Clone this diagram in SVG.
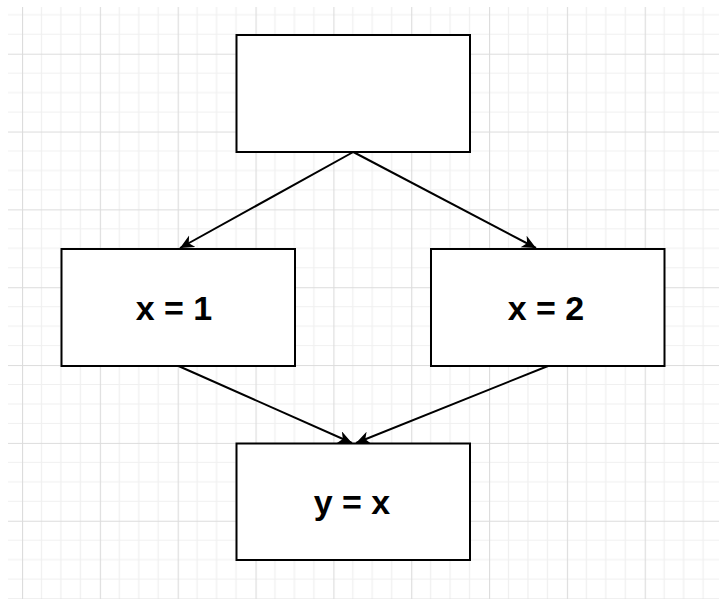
<svg xmlns="http://www.w3.org/2000/svg" width="719" height="599" viewBox="0 0 719 599">
  <style>
    .box { fill: #ffffff; stroke: #000000; stroke-width: 2; }
    .lbl { font-family: "Liberation Sans", Arial, Helvetica, sans-serif; font-size: 34px; font-weight: bold; fill: #000000; text-anchor: middle; }
    .edge { fill: none; stroke: #000000; stroke-width: 2; }
  </style>
  <defs>
    <pattern id="grid" patternUnits="userSpaceOnUse" x="22" y="53.7" width="77.84" height="77.84">
      <rect width="77.84" height="77.84" fill="#ffffff"/>
      <path d="M19.46 0V77.84M38.92 0V77.84M58.38 0V77.84M0 19.46H77.84M0 38.92H77.84M0 58.38H77.84" stroke="#f0f0f0" stroke-width="1.2" fill="none"/>
      <path d="M0.5 0V77.84M0 0.5H77.84" stroke="#dcdcdc" stroke-width="1.2" fill="none"/>
    </pattern>
    <marker id="arrow" markerUnits="userSpaceOnUse" markerWidth="16" markerHeight="14" refX="14" refY="6.5" orient="auto">
      <path d="M0,0 L14,6.5 L0,13 L4,6.5 Z" fill="#000000"/>
    </marker>
  </defs>
  <rect width="719" height="599" fill="#ffffff"/>
  <rect x="8" y="7" width="711" height="592" fill="url(#grid)"/>

  <g id="connectors">
    <path class="edge" d="M353.3 152 L180 248" marker-end="url(#arrow)"/>
    <path class="edge" d="M353.3 152 L536 248" marker-end="url(#arrow)"/>
    <path class="edge" d="M178.5 366 L352 443" marker-end="url(#arrow)"/>
    <path class="edge" d="M548 366 L356 443" marker-end="url(#arrow)"/>
  </g>

  <g id="node-top">
    <rect class="box" x="236.5" y="35" width="233.5" height="117"/>
  </g>
  <g id="node-x1">
    <rect class="box" x="61.5" y="249" width="233.5" height="117"/>
    <text class="lbl" x="174" y="319.5">x = 1</text>
  </g>
  <g id="node-x2">
    <rect class="box" x="431" y="249" width="233.5" height="117"/>
    <text class="lbl" x="546" y="319.5">x = 2</text>
  </g>
  <g id="node-y">
    <rect class="box" x="236.5" y="443.5" width="233.5" height="116.5"/>
    <text class="lbl" x="352" y="514">y = x</text>
  </g>
</svg>
